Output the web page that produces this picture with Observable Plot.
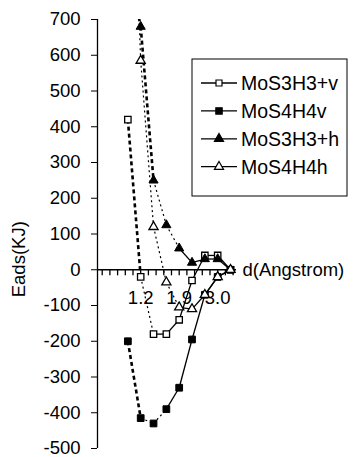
<!DOCTYPE html>
<html><head><meta charset="utf-8">
<script src="https://cdn.jsdelivr.net/npm/d3@7"></script>
<script src="https://cdn.jsdelivr.net/npm/@observablehq/plot@0.6"></script>
<style>
body{margin:0;background:#fff;}
#chart{position:relative;width:357px;height:457px;}
</style>
</head><body><div id="chart"></div>
<script>
// distance values of the points (Angstrom)
const distances = [0.9, 1.2, 1.5, 1.8, 2.1, 2.4, 2.7, 3.0, 3.3];
const seriesNames = ["MoS3H3+v", "MoS4H4v", "MoS3H3+h", "MoS4H4h"];
// adsorption energies (KJ)
const mos3h3v = [420, -20, -180, -180, -140, -30, 40, 40, 0];
const mos4h4v = [-200, -415, -430, -390, -330, -195, -70, -20, 0];
const mos3h3h = [860, 680, 250, 125, 60, 20, 30, 30, 0];
const mos4h4h = [1500, 585, 120, -35, -105, -110, -70, -20, 0];
// line style of each segment between consecutive points
const styles3v = ["dash", "dot", "solid", "solid", "solid", "solid", "solid", "solid"];
const styles4v = ["dash", "dot", "dot", "solid", "solid", "solid", "solid", "solid"];
const styles3h = ["dash", "dash", "dot", "dot", "solid", "solid", "solid", "solid"];
const styles4h = ["dot", "dot", "dot", "dot", "solid", "solid", "solid", "solid"];
// axes
const xTickValues = [1.2, 2.1, 3.0];
const xTickLabels = ["1.2", "1.9", "3.0"];
const xMinorTicks = [0.3, 0.48, 0.66, 0.84, 1.02, 1.2, 1.38, 1.56, 1.74, 1.92, 2.1, 2.28, 2.46, 2.64, 2.82, 3.0, 3.18, 3.36];
const yTicks = [-500, -400, -300, -200, -100, 0, 100, 200, 300, 400, 500, 600, 700];
const xTitle = "d(Angstrom)";
const yTitle = "Eads(KJ)";

const allValues = [mos3h3v, mos4h4v, mos3h3h, mos4h4h];
const allStyles = [styles3v, styles4v, styles3h, styles4h];
const points = [];
const segments = [];
allValues.forEach((vals, s) => {
  vals.forEach((v, i) => points.push({series: seriesNames[s], x: distances[i], y: v}));
  for (let i = 0; i < vals.length - 1; i++) {
    segments.push({series: seriesNames[s], x1: distances[i], y1: vals[i], x2: distances[i + 1], y2: vals[i + 1], style: allStyles[s][i]});
  }
});
const inView = d => d.y <= 700;
const xDomain = [0.19, 3.44];
const font = "Liberation Sans, Arial, Helvetica, sans-serif";

const chart = Plot.plot({
  width: 357, height: 457,
  marginLeft: 97, marginRight: 121, marginTop: 19, marginBottom: 9,
  style: {fontFamily: font, fontSize: "16px", background: "#fff", color: "#000", overflow: "visible"},
  x: {domain: xDomain, axis: null},
  y: {domain: [-500, 700], axis: null},
  marks: [
    Plot.ruleX([xDomain[0]], {stroke: "black", strokeWidth: 1.3}),
    Plot.axisY({ticks: yTicks, tickSize: 6, tickPadding: 11, label: null, fontSize: 18.5, tickFormat: d => String(d), stroke: "black"}),
    Plot.ruleY([0], {stroke: "black", strokeWidth: 1.3}),
    Plot.ruleX(xMinorTicks, {x: d => d, y1: 0, y2: -17, stroke: "black", strokeWidth: 1.3}),
    Plot.text(xTickValues, {x: d => d, y: 0, dy: 28, text: (d, i) => xTickLabels[i], fontSize: 18.5, fill: "black"}),
    Plot.text([xTitle], {x: xDomain[1], y: 0, dx: 6, textAnchor: "start", fontSize: 18.5, fill: "black"}),
    Plot.link(segments.filter(d => d.style === "dash"), {x1: "x1", y1: "y1", x2: "x2", y2: "y2", stroke: "black", strokeWidth: 2.6, strokeDasharray: "4,3", clip: true}),
    Plot.link(segments.filter(d => d.style === "dot"), {x1: "x1", y1: "y1", x2: "x2", y2: "y2", stroke: "black", strokeWidth: 1.2, strokeDasharray: "2,3", clip: true}),
    Plot.link(segments.filter(d => d.style === "solid"), {x1: "x1", y1: "y1", x2: "x2", y2: "y2", stroke: "black", strokeWidth: 1.3}),
    Plot.dot(points.filter(d => d.series === seriesNames[0] && inView(d)), {x: "x", y: "y", symbol: "square", r: 3.6, fill: "white", stroke: "black", strokeWidth: 1.3}),
    Plot.dot(points.filter(d => d.series === seriesNames[1] && inView(d)), {x: "x", y: "y", symbol: "square", r: 3.8, fill: "black", stroke: "black", strokeWidth: 1}),
    Plot.dot(points.filter(d => d.series === seriesNames[2] && inView(d)), {x: "x", y: "y", symbol: "triangle", r: 3.4, fill: "black", stroke: "black", strokeWidth: 1}),
    Plot.dot(points.filter(d => d.series === seriesNames[3] && inView(d)), {x: "x", y: "y", symbol: "triangle", r: 3.4, fill: "white", stroke: "black", strokeWidth: 1.3})
  ]
});
document.getElementById("chart").appendChild(chart);

const svg = d3.select(chart);
const yScale = chart.scale("y");
// y-axis title, rotated, left of the tick labels
const titleY = yScale.apply(28);
svg.append("text").attr("transform", `translate(25,${titleY}) rotate(-90)`)
  .attr("text-anchor", "middle").attr("font-family", font).attr("font-size", 18.5).attr("fill", "black")
  .text(yTitle);

// legend box inside the plot area
const lg = svg.append("g").attr("font-family", font).attr("font-size", 19.5).attr("text-anchor", "start");
lg.append("rect").attr("x", 192).attr("y", 59).attr("width", 155).attr("height", 137)
  .attr("fill", "white").attr("stroke", "black").attr("stroke-width", 1);
const legendSymbols = [
  {sym: d3.symbolSquare, size: 36, fill: "white"},
  {sym: d3.symbolSquare, size: 40, fill: "black"},
  {sym: d3.symbolTriangle, size: 36, fill: "black"},
  {sym: d3.symbolTriangle, size: 36, fill: "white"}
];
seriesNames.forEach((name, i) => {
  const cy = 83 + i * 27.9;
  const row = lg.append("g");
  row.append("line").attr("x1", 201).attr("x2", 237).attr("y1", cy).attr("y2", cy).attr("stroke", "black").attr("stroke-width", 1.3);
  row.append("path").attr("d", d3.symbol(legendSymbols[i].sym, legendSymbols[i].size)())
    .attr("transform", `translate(219,${cy})`).attr("fill", legendSymbols[i].fill).attr("stroke", "black").attr("stroke-width", 1.2);
  row.append("text").attr("x", 241).attr("y", cy).attr("dy", "0.35em").attr("fill", "black").text(name);
});
</script>
</body></html>
